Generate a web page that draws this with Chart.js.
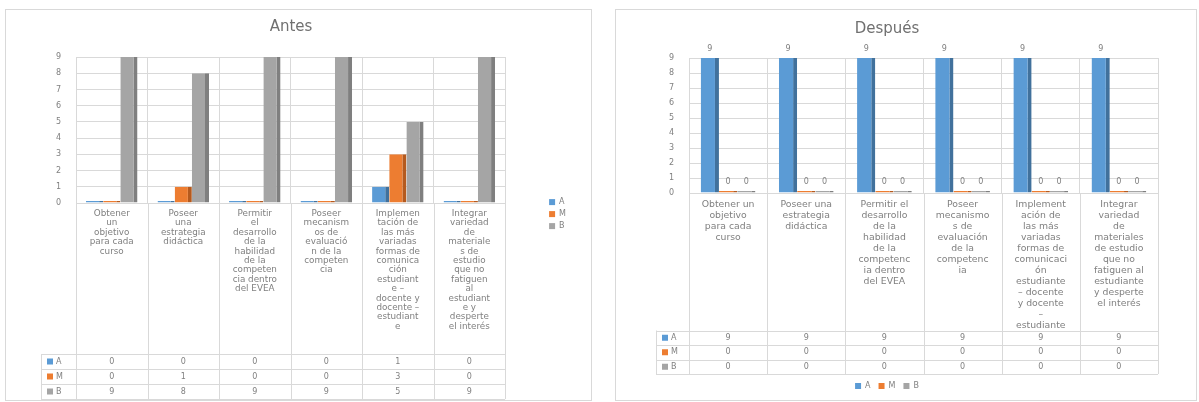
<!DOCTYPE html>
<html>
<head>
<meta charset="utf-8">
<script src="https://cdn.jsdelivr.net/npm/chart.js"></script>
<style>
  body { margin: 0; background: #fff; width: 1199px; height: 402px; position: relative; overflow: hidden; }
  .box { position: absolute; border: 1px solid #d9d9d9; background: #fff; }
  #b1 { left: 5px; top: 9px; width: 585px; height: 390px; }
  #b2 { left: 615px; top: 9px; width: 580px; height: 390px; }
  canvas { display: block; }
</style>
</head>
<body>
<div class="box" id="b1"><canvas id="antes" width="585" height="390"></canvas></div>
<div class="box" id="b2"><canvas id="despues" width="580" height="390"></canvas></div>
<script>
Chart.defaults.font.family = "'DejaVu Sans', sans-serif";
Chart.defaults.color = "#808080";

const seriesNames = ["A", "M", "B"];
const barColors = ["#5B9BD5", "#ED7D31", "#A5A5A5"];
const sideColors = ["#41719C", "#B55A1E", "#7F7F7F"];

const antesLabels = [
  ["Obtener", "un", "objetivo", "para cada", "curso"],
  ["Poseer", "una", "estrategia", "didáctica"],
  ["Permitir", "el", "desarrollo", "de la", "habilidad", "de la", "competen", "cia dentro", "del EVEA"],
  ["Poseer", "mecanism", "os de", "evaluació", "n de la", "competen", "cia"],
  ["Implemen", "tación de", "las más", "variadas", "formas de", "comunica", "ción", "estudiant", "e –", "docente y", "docente –", "estudiant", "e"],
  ["Integrar", "variedad", "de", "materiale", "s de", "estudio", "que no", "fatiguen", "al", "estudiant", "e y", "desperte", "el interés"]
];
const antesA = [0, 0, 0, 0, 1, 0];
const antesM = [0, 1, 0, 0, 3, 0];
const antesB = [9, 8, 9, 9, 5, 9];

const despuesLabels = [
  ["Obtener un", "objetivo", "para cada", "curso"],
  ["Poseer una", "estrategia", "didáctica"],
  ["Permitir el", "desarrollo", "de la", "habilidad", "de la", "competenc", "ia dentro", "del EVEA"],
  ["Poseer", "mecanismo", "s de", "evaluación", "de la", "competenc", "ia"],
  ["Implement", "ación de", "las más", "variadas", "formas de", "comunicaci", "ón", "estudiante", "– docente", "y docente", "–", "estudiante"],
  ["Integrar", "variedad", "de", "materiales", "de estudio", "que no", "fatiguen al", "estudiante", "y desperte", "el interés"]
];
const despuesA = [9, 9, 9, 9, 9, 9];
const despuesM = [0, 0, 0, 0, 0, 0];
const despuesB = [0, 0, 0, 0, 0, 0];

// table under the axis labels, one row per series
const dataTable = {
  id: "dataTable",
  afterDraw(chart, args, opts) {
    const ctx = chart.ctx;
    const xs = chart.scales.x;
    const area = chart.chartArea;
    const n = chart.data.labels.length;
    const half = (xs.getPixelForValue(1) - xs.getPixelForValue(0)) / 2;
    const top = xs.bottom - opts.rowH * 3;
    const bottom = xs.bottom;
    ctx.save();
    ctx.strokeStyle = "#d9d9d9";
    ctx.lineWidth = 1;
    ctx.beginPath();
    for (let i = 0; i <= n; i++) {
      const x = Math.round(xs.getPixelForValue(i) - half) + 0.5;
      ctx.moveTo(x, area.bottom);
      ctx.lineTo(x, bottom);
    }
    ctx.moveTo(opts.left + 0.5, top);
    ctx.lineTo(opts.left + 0.5, bottom);
    for (let r = 0; r <= 3; r++) {
      const y = Math.round(top + r * opts.rowH) + 0.5;
      ctx.moveTo(opts.left, y);
      ctx.lineTo(area.right, y);
    }
    ctx.stroke();
    ctx.font = opts.font;
    ctx.textBaseline = "middle";
    chart.data.datasets.forEach((ds, r) => {
      const y = top + (r + 0.5) * opts.rowH;
      ctx.fillStyle = "#808080";
      ctx.textAlign = "center";
      ds.data.forEach((v, i) => ctx.fillText(String(v), xs.getPixelForValue(i), y));
      ctx.fillStyle = ds.backgroundColor;
      ctx.fillRect(opts.left + 6, y - 3, 6, 6);
      ctx.fillStyle = "#808080";
      ctx.textAlign = "left";
      ctx.fillText(ds.label, opts.left + 15, y);
    });
    ctx.restore();
  }
};

// values above the bars
const valueLabels = {
  id: "valueLabels",
  afterDatasetsDraw(chart) {
    const ctx = chart.ctx;
    ctx.save();
    ctx.font = "8px 'DejaVu Sans'";
    ctx.fillStyle = "#808080";
    ctx.textAlign = "center";
    ctx.textBaseline = "middle";
    chart.data.datasets.forEach((ds, d) => {
      chart.getDatasetMeta(d).data.forEach((bar, i) => {
        ctx.fillText(String(ds.data[i]), bar.x, bar.y - 9);
      });
    });
    ctx.restore();
  }
};

function makeSets(values) {
  return values.map((v, i) => ({
    label: seriesNames[i],
    data: v,
    backgroundColor: barColors[i],
    borderColor: sideColors[i],
    borderWidth: { top: 0, right: 4, bottom: 0, left: 0 },
    minBarLength: 2
  }));
}

const legendLabels = ch =>
  Chart.defaults.plugins.legend.labels.generateLabels(ch).map(l => ({ ...l, lineWidth: 0 }));

new Chart("antes", {
  type: "bar",
  data: { labels: antesLabels, datasets: makeSets([antesA, antesM, antesB]) },
  options: {
    responsive: false,
    animation: false,
    layout: { padding: { bottom: 1, right: 15 } },
    categoryPercentage: 0.72,
    barPercentage: 1,
    plugins: {
      title: { display: true, text: "Antes", color: "#707070", font: { size: 15, weight: "normal" }, padding: { top: 8, bottom: 21 } },
      legend: {
        position: "right",
        title: { display: true, text: " ", padding: 0, font: { size: 16 } },
        labels: { boxWidth: 6, boxHeight: 6, padding: 4, font: { size: 8 }, generateLabels: legendLabels }
      },
      tooltip: { enabled: false },
      dataTable: { rowH: 15, left: 35, font: "8px 'DejaVu Sans'" }
    },
    scales: {
      x: {
        grid: { color: "#d9d9d9", drawTicks: false },
        border: { color: "#d9d9d9" },
        ticks: { autoSkip: false, maxRotation: 0, padding: 6, font: { size: 8.8, lineHeight: "9.4px" } },
        afterFit: s => { s.height = 196; }
      },
      y: {
        min: 0, max: 9,
        grid: { color: "#d9d9d9", drawTicks: false },
        border: { display: false },
        ticks: { stepSize: 1, padding: 15, font: { size: 8 } },
        afterFit: s => { s.width = 70; }
      },
      gap: {
        position: "right",
        grid: { display: false },
        border: { display: false },
        ticks: { display: false },
        afterFit: s => { s.width = 40; }
      }
    }
  },
  plugins: [dataTable]
});

new Chart("despues", {
  type: "bar",
  data: { labels: despuesLabels, datasets: makeSets([despuesA, despuesM, despuesB]) },
  options: {
    responsive: false,
    animation: false,
    layout: { padding: { bottom: 0, right: 38 } },
    categoryPercentage: 0.7,
    barPercentage: 1,
    plugins: {
      title: { display: true, text: "Después", color: "#707070", font: { size: 15, weight: "normal" }, padding: { top: 10, bottom: 20 } },
      legend: {
        position: "bottom",
        labels: { boxWidth: 6, boxHeight: 6, padding: 8, font: { size: 8 }, generateLabels: legendLabels }
      },
      tooltip: { enabled: false },
      dataTable: { rowH: 14.5, left: 40, font: "8px 'DejaVu Sans'" }
    },
    scales: {
      x: {
        grid: { color: "#d9d9d9", drawTicks: false },
        border: { color: "#d9d9d9" },
        ticks: { autoSkip: false, maxRotation: 0, padding: 6, font: { size: 9.3, lineHeight: "11px" } },
        afterFit: s => { s.height = 181; }
      },
      y: {
        min: 0, max: 9,
        grid: { color: "#d9d9d9", drawTicks: false },
        border: { display: false },
        ticks: { stepSize: 1, padding: 15, font: { size: 8 } },
        afterFit: s => { s.width = 73; }
      }
    }
  },
  plugins: [dataTable, valueLabels]
});
</script>
</body>
</html>
